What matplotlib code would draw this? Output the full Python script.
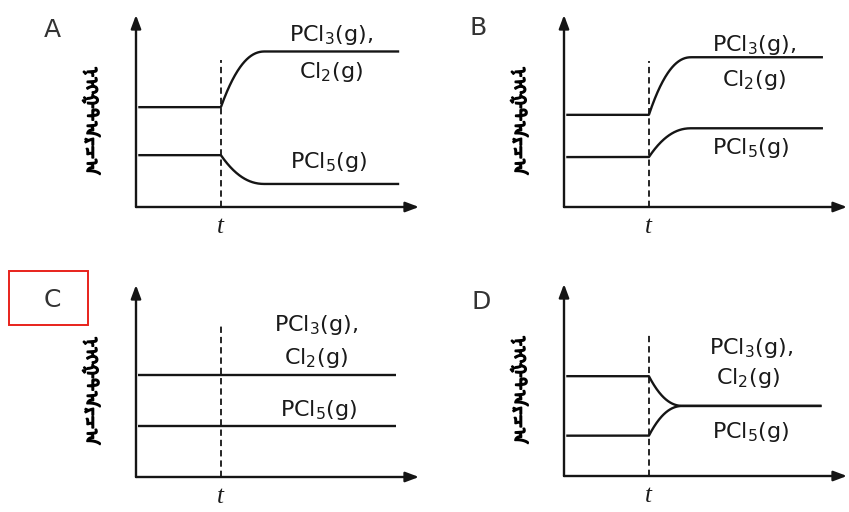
import matplotlib
matplotlib.use('Agg')
import numpy as np
import matplotlib.pyplot as plt
import matplotlib.patheffects as pe
from matplotlib.patches import Rectangle

plt.rcParams['font.family'] = ['DejaVu Sans']
plt.rcParams['mathtext.fontset'] = 'dejavusans'

# concentration levels (arbitrary units, 0-10) before t and after the new equilibrium
panels = ['A', 'B', 'C', 'D']
pcl3_before = [5.2, 4.8, 5.3, 5.2]
pcl3_after = [8.1, 7.8, 5.3, 3.65]
pcl5_before = [2.7, 2.6, 2.65, 2.1]
pcl5_after = [1.2, 4.1, 2.65, 3.65]
t_change = 3.0
settle_time = [1.55, 1.5, 0.0, 1.2]
ylabel_text = 'ᠨᠢᠭᠲᠠᠷᠴᠠ'

W, H = 849, 512
fig = plt.figure(figsize=(W / 100, H / 100), dpi=100)

# axes origin (px) and size of each panel
origins = [(136, 207), (564, 207), (136, 477), (564, 476)]
ax_w, ax_h = 283, 192
# label positions in data units: (x, y) for "PCl3(g),", "Cl2(g)", "PCl5(g)"
lab_pos = [
    [(6.9, 8.95), (6.9, 7.05), (6.8, 2.35)],
    [(6.7, 8.45), (6.7, 6.6), (6.6, 3.05)],
    [(6.35, 7.9), (6.35, 6.2), (6.45, 3.5)],
    [(6.6, 6.65), (6.5, 5.1), (6.6, 2.3)],
]
dash_top = [7.65, 7.6, 8.0, 7.5]
line_end = [9.3, 9.15, 9.2, 9.1]
letter_px = [(52, 30), (478, 28), (52, 300), (481, 302)]


def curve(before, after, settle, xend):
    # flat until t, a quick rise/fall that levels off, then flat again
    x = np.linspace(0.08, xend, 600)
    y = np.full_like(x, before)
    if settle > 0:
        s = np.clip((x - t_change) / settle, 0, 1)
        y = before + (after - before) * (1 - (1 - s) ** 2.2)
    return x, y


for i, name in enumerate(panels):
    ox, oy = origins[i]
    ax = fig.add_axes([ox / W, 1 - oy / H, ax_w / W, ax_h / H])
    ax.set_xlim(0, 10)
    ax.set_ylim(0, 10)
    ax.axis('off')

    arrow = dict(arrowstyle='-|>,head_length=0.8,head_width=0.3',
                 color='#151515', lw=1.7, shrinkA=0, shrinkB=0)
    ax.annotate('', xy=(10, 0), xytext=(0, 0), arrowprops=arrow,
                annotation_clip=False)
    ax.annotate('', xy=(0, 10), xytext=(0, 0), arrowprops=arrow,
                annotation_clip=False)

    ax.plot([t_change, t_change], [0, dash_top[i]], ls=(0, (3.5, 2.2)),
            color='#151515', lw=1.3)

    for b, a in [(pcl3_before[i], pcl3_after[i]), (pcl5_before[i], pcl5_after[i])]:
        x, y = curve(b, a, settle_time[i], line_end[i])
        ax.plot(x, y, color='#151515', lw=1.7, solid_capstyle='butt')

    texts = [r'PCl$_3$(g),', r'Cl$_2$(g)', r'PCl$_5$(g)']
    for (tx, ty), s in zip(lab_pos[i], texts):
        ax.text(tx, ty, s, ha='center', va='center', fontsize=16,
                color='#1a1a1a')

    ax.text(t_change, -0.45, 't', ha='center', va='top', fontsize=18,
            family='Liberation Serif', style='italic', color='#1a1a1a')

    lx, ly = letter_px[i]
    fig.text(lx / W, 1 - ly / H, name, ha='center', va='center',
             fontsize=18, color='#333333')

    # the Mongolian face has no bold weight, so thicken it with a stroke
    fig.text((ox - 45) / W, 1 - (oy - 86) / H, ylabel_text,
             family=['Noto Sans Mongolian', 'DejaVu Sans'],
             rotation=270, ha='center', va='center', fontsize=12,
             color='black',
             path_effects=[pe.withStroke(linewidth=1.2, foreground='black')])

# answer box around C
fig.patches.append(Rectangle((9 / W, 1 - 325 / H), 79 / W, 54 / H,
                             transform=fig.transFigure, fill=False,
                             edgecolor='#e8221b', lw=1.4))

fig.savefig('out.png', dpi=100)
